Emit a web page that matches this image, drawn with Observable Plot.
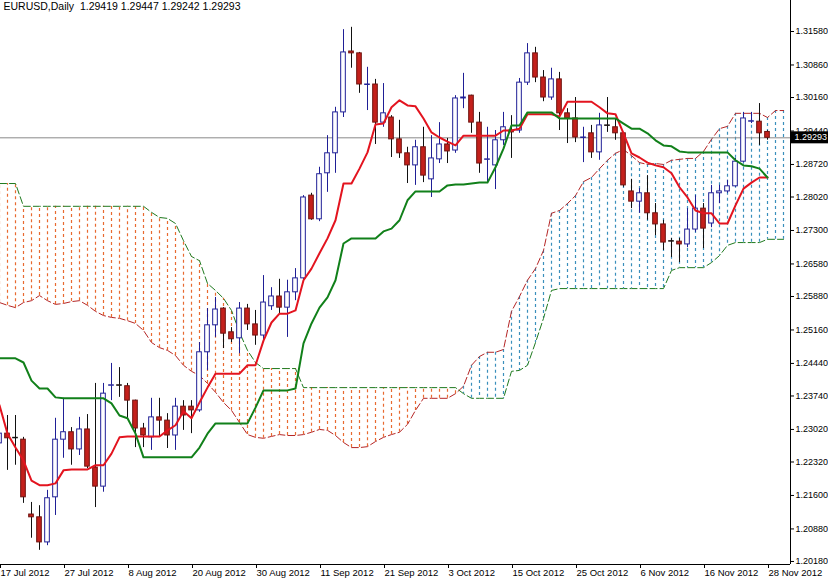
<!DOCTYPE html>
<html><head><meta charset="utf-8">
<script src="https://cdn.jsdelivr.net/npm/d3@7"></script>
<script src="https://cdn.jsdelivr.net/npm/@observablehq/plot@0.6"></script>
<style>
body{margin:0;background:#fff}
#chart{position:relative;width:828px;height:582px}
</style>
</head><body><div id="chart"></div>
<script>
const title = "EURUSD,Daily\u00a0\u00a01.29419 1.29447 1.29242 1.29293";
const xTickBars = [0, 8, 16, 24, 32, 40, 48, 56, 64, 72, 80, 88, 96];
const xTickLabels = ["17 Jul 2012","27 Jul 2012","8 Aug 2012","20 Aug 2012","30 Aug 2012","11 Sep 2012","21 Sep 2012","3 Oct 2012","15 Oct 2012","25 Oct 2012","6 Nov 2012","16 Nov 2012","28 Nov 2012"];
const yTickLabels = ["1.31580","1.30860","1.30160","1.29440","1.28720","1.28020","1.27300","1.26580","1.25880","1.25160","1.24440","1.23740","1.23020","1.22320","1.21600","1.20880","1.20180"];

const open = [1.2272,1.2293,1.2284,1.2280,1.2119,1.2113,1.2059,1.2156,1.2280,1.2296,
1.2259,1.2302,1.2220,1.2179,1.2396,1.2397,1.2395,1.2364,1.2304,1.2285,
1.2328,1.2321,1.2289,1.2351,1.2351,1.2343,1.2468,1.2526,1.2562,1.2511,
1.2498,1.2562,1.2528,1.2504,1.2567,1.2588,1.2564,1.2597,1.2627,1.2805,
1.2754,1.2853,1.2896,1.2984,1.3115,1.3111,1.3043,1.3044,1.2962,1.2973,
1.2926,1.2896,1.2870,1.2909,1.2840,1.2883,1.2915,1.2902,1.3014,1.3020,
1.2962,1.2882,1.2870,1.2924,1.2945,1.2945,1.3048,1.3111,1.3059,1.3016,
1.3055,1.2982,1.2971,1.2929,1.2939,1.2898,1.2956,1.2952,1.2939,1.2814,
1.2792,1.2810,1.2767,1.2743,1.2707,1.2706,1.2700,1.2732,1.2777,1.2745,
1.2810,1.2814,1.2825,1.2878,1.2964,1.2964,1.29419];
const high = [1.2311,1.2332,1.2332,1.2285,1.2145,1.2138,1.2171,1.2326,1.2369,1.2306,
1.2328,1.2334,1.2401,1.2401,1.2444,1.2435,1.2401,1.2365,1.2315,1.2369,
1.2369,1.2336,1.2369,1.2364,1.2364,1.2489,1.2562,1.2586,1.2564,1.2521,
1.2575,1.2571,1.2558,1.2633,1.2607,1.2625,1.2623,1.2648,1.2805,1.2810,
1.2866,1.2934,1.2995,1.3162,1.3167,1.3113,1.3081,1.3055,1.3046,1.2977,
1.2967,1.2909,1.2924,1.2952,1.2934,1.2962,1.2928,1.3020,1.3068,1.3021,
1.2984,1.2952,1.2945,1.2984,1.2977,1.3057,1.3132,1.3124,1.3074,1.3079,
1.3070,1.2992,1.3016,1.2952,1.2956,1.2982,1.3016,1.2971,1.2941,1.2840,
1.2820,1.2848,1.2788,1.2752,1.2713,1.2713,1.2777,1.2805,1.2788,1.2827,
1.2827,1.2838,1.2885,1.2984,1.2984,1.3003,1.29447];
const low = [1.2257,1.2214,1.2225,1.2143,1.2068,1.2042,1.2052,1.2117,1.2240,1.2225,
1.2246,1.2218,1.2134,1.2167,1.2364,1.2371,1.2326,1.2263,1.2263,1.2257,
1.2285,1.2261,1.2257,1.2300,1.2293,1.2339,1.2429,1.2500,1.2476,1.2489,
1.2465,1.2515,1.2483,1.2493,1.2558,1.2551,1.2500,1.2579,1.2623,1.2752,
1.2749,1.2812,1.2853,1.2973,1.3079,1.3025,1.2988,1.2915,1.2952,1.2887,
1.2885,1.2831,1.2827,1.2833,1.2801,1.2874,1.2874,1.2896,1.2992,1.2939,
1.2853,1.2833,1.2818,1.2913,1.2885,1.2939,1.3042,1.3048,1.3007,1.3010,
1.2945,1.2917,1.2919,1.2876,1.2885,1.2881,1.2941,1.2924,1.2823,1.2777,
1.2767,1.2752,1.2719,1.2687,1.2672,1.2661,1.2693,1.2726,1.2691,1.2736,
1.2788,1.2810,1.2823,1.2876,1.2960,1.2913,1.29242];
const close = [1.2293,1.2283,1.2283,1.2156,1.2113,1.2059,1.2154,1.2280,1.2296,1.2259,
1.2302,1.2222,1.2179,1.2379,1.2397,1.2396,1.2364,1.2304,1.2289,1.2328,
1.2321,1.2289,1.2351,1.2332,1.2343,1.2468,1.2526,1.2560,1.2508,1.2496,
1.2562,1.2528,1.2504,1.2575,1.2588,1.2564,1.2597,1.2627,1.2801,1.2754,
1.2851,1.2896,1.2984,1.3113,1.3111,1.3044,1.3044,1.2962,1.2982,1.2926,
1.2896,1.2870,1.2909,1.2848,1.2885,1.2915,1.2900,1.3014,1.3016,1.2962,
1.2874,1.2883,1.2924,1.2952,1.2941,1.3048,1.3111,1.3059,1.3016,1.3055,
1.2982,1.2971,1.2930,1.2930,1.2898,1.2956,1.2955,1.2939,1.2827,1.2792,
1.2810,1.2767,1.2743,1.2704,1.2706,1.2700,1.2732,1.2777,1.2734,1.2810,
1.2814,1.2825,1.2878,1.2971,1.2965,1.2939,1.29293];

const tenkan = [1.2354,1.2293,1.2263,1.2235,1.2192,1.2182,1.2182,1.2186,1.2214,1.2216,
1.2216,1.2216,1.2225,1.2225,1.2250,1.2285,1.2287,1.2287,1.2287,1.2287,
1.2287,1.2300,1.2311,1.2341,1.2326,1.2360,1.2392,1.2422,1.2422,1.2422,
1.2422,1.2440,1.2440,1.2493,1.2532,1.2551,1.2551,1.2558,1.2623,1.2648,
1.2681,1.2713,1.2752,1.2831,1.2831,1.2863,1.2898,1.2958,1.2960,1.2995,
1.3010,1.2999,1.2997,1.2971,1.2941,1.2930,1.2921,1.2913,1.2934,1.2934,
1.2934,1.2934,1.2934,1.2945,1.2945,1.2949,1.2980,1.2980,1.2980,1.2980,
1.2975,1.3007,1.3007,1.3007,1.3007,1.2995,1.2982,1.2980,1.2939,1.2896,
1.2887,1.2876,1.2870,1.2866,1.2853,1.2823,1.2801,1.2773,1.2767,1.2767,
1.2745,1.2745,1.2784,1.2820,1.2833,1.2844,1.2844];
const kijun = [1.2455,1.2455,1.2455,1.2446,1.2407,1.2390,1.2390,1.2371,1.2369,1.2369,
1.2369,1.2369,1.2369,1.2369,1.2358,1.2332,1.2326,1.2293,1.2242,1.2242,
1.2242,1.2242,1.2242,1.2242,1.2242,1.2263,1.2293,1.2315,1.2315,1.2315,
1.2315,1.2315,1.2349,1.2386,1.2386,1.2386,1.2386,1.2390,1.2487,1.2530,
1.2564,1.2586,1.2623,1.2702,1.2713,1.2713,1.2713,1.2713,1.2728,1.2734,
1.2752,1.2795,1.2814,1.2814,1.2814,1.2814,1.2827,1.2829,1.2829,1.2831,
1.2833,1.2833,1.2866,1.2906,1.2956,1.2956,1.2984,1.2984,1.2984,1.2984,
1.2971,1.2971,1.2971,1.2971,1.2971,1.2971,1.2971,1.2971,1.2960,1.2949,
1.2949,1.2939,1.2924,1.2913,1.2911,1.2900,1.2898,1.2898,1.2898,1.2898,
1.2898,1.2898,1.2881,1.2870,1.2868,1.2863,1.2844];
const spanA = [1.2575,1.2569,1.2564,1.2575,1.2579,1.2590,1.2579,1.2571,1.2573,1.2577,
1.2579,1.2569,1.2556,1.2547,1.2543,1.2541,1.2536,1.2530,1.2515,1.2489,
1.2478,1.2472,1.2461,1.2440,1.2427,1.2418,1.2401,1.2382,1.2360,1.2343,
1.2317,1.2291,1.2285,1.2283,1.2287,1.2291,1.2289,1.2289,1.2291,1.2296,
1.2302,1.2300,1.2289,1.2274,1.2263,1.2263,1.2265,1.2276,1.2285,1.2291,
1.2296,1.2313,1.2343,1.2369,1.2369,1.2369,1.2369,1.2379,1.2395,1.2440,
1.2459,1.2468,1.2468,1.2474,1.2556,1.2588,1.2623,1.2648,1.2687,1.2767,
1.2773,1.2788,1.2805,1.2835,1.2844,1.2863,1.2881,1.2896,1.2904,1.2891,
1.2876,1.2872,1.2874,1.2872,1.2881,1.2883,1.2885,1.2885,1.2900,1.2926,
1.2949,1.2954,1.2982,1.2982,1.2982,1.2982,1.2973,1.2988,1.2988];
const spanB = [1.2831,1.2831,1.2831,1.2782,1.2782,1.2782,1.2782,1.2782,1.2782,1.2782,
1.2782,1.2782,1.2782,1.2782,1.2782,1.2782,1.2782,1.2782,1.2782,1.2769,
1.2758,1.2756,1.2745,1.2708,1.2674,1.2665,1.2616,1.2601,1.2584,1.2558,
1.2511,1.2472,1.2446,1.2433,1.2433,1.2433,1.2433,1.2433,1.2392,1.2392,
1.2392,1.2392,1.2392,1.2392,1.2392,1.2392,1.2392,1.2392,1.2392,1.2392,
1.2392,1.2392,1.2392,1.2392,1.2392,1.2392,1.2392,1.2392,1.2379,1.2369,
1.2369,1.2369,1.2369,1.2369,1.2427,1.2429,1.2440,1.2489,1.2541,1.2601,
1.2605,1.2605,1.2605,1.2605,1.2605,1.2605,1.2605,1.2605,1.2605,1.2605,
1.2605,1.2605,1.2605,1.2605,1.2644,1.2650,1.2650,1.2650,1.2650,1.2661,
1.2676,1.2698,1.2704,1.2704,1.2704,1.2704,1.2711,1.2711,1.2711];

const bars = open.map((o, i) => ({i, o, h: high[i], l: low[i], c: close[i], bull: close[i] >= o}));
const lines = tenkan.map((t, i) => ({i, t, k: kijun[i]}));
const cloud = spanA.map((a, i) => ({i, a, b: spanB[i]}));
const yTicks = yTickLabels.map(Number);
const last = bars[bars.length - 1];

const W = 828, H = 582, mR = 38, mB = 18;
const font = "'Liberation Sans', Arial, sans-serif";
const hatchUp = "#e86a30";   // Span B above Span A
const hatchDown = "#3a8fbc"; // Span A above Span B

const chart = Plot.plot({
  width: W, height: H,
  marginLeft: 0, marginRight: mR, marginTop: 0, marginBottom: mB,
  style: {fontFamily: font, fontSize: "9px", background: "#fff", color: "#000", overflow: "hidden"},
  x: {domain: [0.125, 98.875], axis: null},
  y: {domain: [1.20115, 1.32247], axis: null},
  color: {type: "identity"},
  marks: [
    // cloud hatching
    Plot.ruleX(cloud, {x: "i", y1: "a", y2: "b", stroke: d => d.b >= d.a ? hatchUp : hatchDown, strokeWidth: 1.2, strokeDasharray: "3,3", clip: true}),
    Plot.line(cloud, {x: "i", y: "a", stroke: "#b52626", strokeWidth: 1, strokeDasharray: "7,3", clip: true}),
    Plot.line(cloud, {x: "i", y: "b", stroke: "#1f7a1f", strokeWidth: 1, strokeDasharray: "7,3", clip: true}),
    // current price line
    Plot.ruleY([last.c], {stroke: "#8a8a8a", strokeWidth: 1}),
    // wicks
    Plot.ruleX(bars, {x: "i", y1: "l", y2: "h", stroke: d => d.bull ? "#1f1f96" : "#111111", strokeWidth: 1, clip: true}),
    // bodies
    Plot.rect(bars, {x1: d => d.i - 0.29, x2: d => d.i + 0.29, y1: "o", y2: "c",
      fill: d => d.bull ? "#ffffff" : "#c4201b",
      stroke: d => d.bull ? "#1f1f96" : (Math.abs(d.o - d.c) < 0.00015 ? "#111111" : "#6e1410"),
      strokeWidth: 1, clip: true}),
    // Tenkan / Kijun
    Plot.line(lines, {x: "i", y: "t", stroke: "#e3141f", strokeWidth: 2, clip: true}),
    Plot.line(lines, {x: "i", y: "k", stroke: "#11801a", strokeWidth: 2, clip: true}),
    // frame lines
    Plot.ruleX([98.875], {stroke: "#000", strokeWidth: 1}),
    Plot.ruleY([1.20115], {stroke: "#000", strokeWidth: 1}),
    // axes
    Plot.axisY({anchor: "right", ticks: yTicks, tickFormat: d => d.toFixed(5), tickSize: 3, tickPadding: 2, label: null, fontSize: 9}),
    Plot.axisX({anchor: "bottom", ticks: xTickBars, tickFormat: d => xTickLabels[xTickBars.indexOf(d)], tickSize: 4, tickPadding: 1, textAnchor: "start", dx: 1, label: null, fontSize: 9.5}),
    // title
    Plot.text([title], {frameAnchor: "top-left", dx: 3, dy: 2, textAnchor: "start", lineAnchor: "top", fontSize: 10.5, fill: "#000"})
  ]
});
document.getElementById("chart").appendChild(chart);

// current price tag on the right axis
const yS = chart.scale("y");
const svg = d3.select(chart);
const py = yS.apply(last.c);
const g = svg.append("g");
g.append("rect").attr("x", W - mR + 1).attr("y", py - 6).attr("width", mR - 1).attr("height", 12).attr("fill", "#000");
g.append("text").attr("x", W - 1).attr("y", py).attr("dy", "0.35em").attr("text-anchor", "end")
  .attr("fill", "#fff").attr("font-size", 9).attr("font-family", font).text(last.c.toFixed(5));
</script>
</body></html>
